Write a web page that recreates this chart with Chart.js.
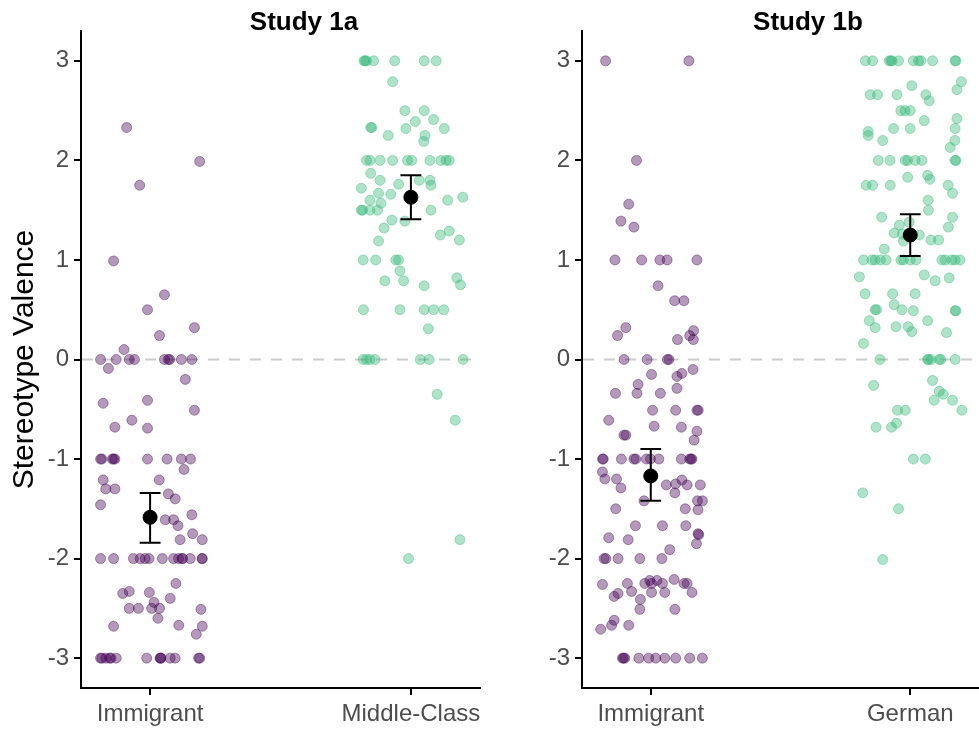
<!DOCTYPE html>
<html>
<head>
<meta charset="utf-8">
<script src="https://cdn.jsdelivr.net/npm/chart.js@4.4.0/dist/chart.umd.min.js"></script>
<style>
    body { margin: 0; background: #fff; width: 979px; height: 729px; overflow: hidden; position: relative; }
    canvas { position: absolute; top: 0; }
    #chart1a { left: 0; }
    #chart1b { left: 500px; }
</style>
</head>
<body>
<canvas id="chart1a" width="490" height="729"></canvas>
<canvas id="chart1b" width="489" height="729"></canvas>
<script>
// --- data ---
const categories1a = ['Immigrant', 'Middle-Class'];
const categories1b = ['Immigrant', 'German'];
const yTickValues = [-3, -2, -1, 0, 1, 2, 3];

// Study 1a - Immigrant (horizontal jitter from category centre, value)
const s1aImmJitter = [
    -0.09, 0.19, -0.04, -0.14, 0.055, -0.01, 0.17, 0.036, -0.10,
    -0.19, -0.13, -0.08, -0.06, 0.055, 0.07, 0.075, 0.12, 0.16,
    -0.16, 0.135, -0.18, -0.01, 0.17, -0.135, -0.07, -0.01,
    -0.19, -0.185, -0.14, -0.145, -0.135, -0.01, 0.065, 0.12, 0.155,
    0.13, -0.18, -0.17, -0.135, 0.035, 0.07, 0.096, -0.19, 0.16, 0.058, 0.09, 0.107, 0.163, 0.115, 0.20,
    -0.19, -0.14, -0.064, -0.038, -0.019, -0.004, 0.047, 0.09, 0.109, 0.122, 0.125, 0.154, 0.199, 0.2,
    0.099, -0.105, -0.08, -0.003, 0.077, 0.015, -0.08, -0.045, 0.006, 0.036, 0.03, 0.195, -0.14, 0.11, 0.2, 0.177,
    -0.19, -0.185, -0.17, -0.15, -0.155, -0.13, -0.013, 0.038, 0.04, 0.042, 0.077, 0.096, 0.186, 0.19
];
const s1aImmValues = [
    2.33, 1.99, 1.75, 0.99, 0.65, 0.50, 0.32, 0.24, 0.10,
    0, 0, 0, 0, 0, 0, 0, 0, 0,
    -0.09, -0.20, -0.44, -0.41, -0.51, -0.68, -0.61, -0.69,
    -1, -1, -1, -1, -1, -1, -1, -1, -1,
    -1.105, -1.21, -1.30, -1.30, -1.21, -1.35, -1.40, -1.46, -1.56, -1.61, -1.61, -1.67, -1.75, -1.81, -1.81,
    -2, -2, -2, -2, -2, -2, -2, -2, -2, -2, -2, -2, -2, -2,
    -2.25, -2.35, -2.33, -2.34, -2.40, -2.44, -2.50, -2.50, -2.50, -2.50, -2.60, -2.51, -2.68, -2.67, -2.68, -2.76,
    -3, -3, -3, -3, -3, -3, -3, -3, -3, -3, -3, -3, -3, -3
];

// Study 1a - Middle-Class
const s1aMidJitter = [
    -0.18, -0.175, -0.17, -0.143, -0.062, 0.051, 0.097,
    -0.07, -0.023, 0.051, 0.017, 0.087, -0.154, -0.15, -0.019, 0.128, -0.087, 0.054, 0.049,
    -0.17, -0.157, -0.118, -0.07, -0.013, 0.003, 0.073, 0.115, 0.135, 0.147,
    -0.154, -0.118, 0.032, 0.073, 0.077, -0.19, -0.047, -0.124, -0.115, -0.077, -0.157, 0.141, 0.199,
    -0.19, -0.185, -0.157, -0.128, 0.077, -0.073, -0.023, -0.103, 0.113, 0.147, 0.186, -0.124,
    -0.183, -0.135, -0.058, -0.047, -0.042, -0.1, -0.028, 0.051, 0.176, 0.19,
    -0.182, -0.042, 0.051, 0.087, 0.126, 0.067,
    -0.183, -0.17, -0.157, -0.138, 0.036, 0.07, 0.2,
    0.101, 0.17, 0.188, -0.009
];
const s1aMidValues = [
    3, 3, 3, 3, 3, 3, 3,
    2.79, 2.50, 2.50, 2.39, 2.41, 2.33, 2.33, 2.32, 2.32, 2.25, 2.25, 2.19,
    2, 2, 2, 2, 2, 2, 2, 2, 2, 2,
    1.87, 1.80, 1.80, 1.80, 1.75, 1.72, 1.76, 1.67, 1.57, 1.66, 1.60, 1.60, 1.63,
    1.50, 1.50, 1.50, 1.50, 1.50, 1.40, 1.39, 1.32, 1.25, 1.29, 1.20, 1.19,
    1, 1, 1, 1, 0.89, 0.79, 0.79, 0.74, 0.82, 0.75,
    0.5, 0.5, 0.5, 0.5, 0.5, 0.31,
    0, 0, 0, 0, 0, 0, 0,
    -0.35, -0.61, -1.81, -2.0
];

// Study 1b - Immigrant
const s1bImmJitter = [
    -0.174, 0.147, -0.055, -0.085, -0.115, -0.065,
    -0.138, -0.035, 0.035, 0.063, 0.178,
    0.028, 0.092, 0.128, -0.128, -0.096, 0.165, 0.15, 0.164, 0.103,
    -0.103, -0.014, 0.064, 0.07,
    0.163, 0.12, 0.101, 0.003, -0.049, -0.053, -0.136, 0.037, 0.101,
    0.007, 0.096, 0.178, 0.183, -0.162, -0.103, -0.096, 0.013, 0.118, 0.178, 0.167,
    -0.186, -0.183, -0.113, -0.065, -0.058, -0.017, -0.001, 0.031, 0.118, 0.15, 0.155, 0.159,
    -0.186, -0.177, -0.132, -0.115, 0.06, 0.096, 0.12, 0.14, 0.191, 0.093, -0.026, 0.18, 0.199,
    -0.135, 0.133, 0.182, -0.059, 0.045, 0.135, -0.162, -0.087, 0.182, 0.185, 0.176, 0.073,
    -0.18, -0.173, -0.126, -0.042, 0.043,
    -0.186, -0.09, -0.023, -0.004, 0.003, 0.024, 0.045, 0.09, 0.128, 0.14,
    -0.141, -0.126, -0.074, 0.003, 0.054, 0.159, -0.04, -0.042, 0.093,
    -0.141, -0.151, -0.193, -0.085,
    -0.109, -0.105, -0.1, -0.046, -0.008, 0.019, 0.054, 0.096, 0.15, 0.199
];
const s1bImmValues = [
    3, 3, 2, 1.56, 1.39, 1.33,
    1, 1, 1, 1, 1,
    0.74, 0.59, 0.59, 0.24, 0.32, 0.29, 0.24, 0.20, 0.20,
    0, 0, 0, 0,
    -0.10, -0.14, -0.17, -0.15, -0.25, -0.34, -0.34, -0.34, -0.29,
    -0.51, -0.51, -0.51, -0.51, -0.61, -0.76, -0.76, -0.67, -0.68, -0.72, -0.81,
    -1, -1, -1, -1, -1, -1, -1, -1, -1, -1, -1, -1,
    -1.13, -1.20, -1.20, -1.29, -1.26, -1.25, -1.21, -1.26, -1.26, -1.34, -1.42, -1.42, -1.42,
    -1.50, -1.50, -1.51, -1.67, -1.67, -1.67, -1.79, -1.81, -1.75, -1.76, -1.85, -1.91,
    -2, -2, -2, -2, -2,
    -2.26, -2.25, -2.25, -2.22, -2.25, -2.22, -2.25, -2.21, -2.25, -2.25,
    -2.38, -2.35, -2.33, -2.34, -2.34, -2.34, -2.41, -2.51, -2.51,
    -2.62, -2.67, -2.71, -2.67,
    -3, -3, -3, -3, -3, -3, -3, -3, -3, -3
];

// Study 1b - German
const s1bGerJitter = [
    -0.173, -0.145, -0.081, -0.075, -0.07, -0.045, 0.012, 0.032, 0.041, 0.086, 0.173, 0.176,
    0.197, 0.18, 0.006, -0.154, -0.126, -0.051, 0.06, 0.073, -0.036, -0.02, 0, 0.054,
    0.18, 0.173, 0.172, 0.154, -0.162, -0.162, -0.064, 0, -0.106,
    -0.123, -0.078, -0.019, -0.01, 0.019, 0.045, 0.173, 0.176,
    -0.01, 0.067, 0.076, -0.17, -0.145, -0.077, 0.146, 0.163, 0.069, 0.07, -0.11, 0.163, 0.147,
    -0.042, -0.062, -0.03, -0.026, -0.004, 0.035, 0.08, 0.109, -0.1,
    -0.18, -0.147, -0.135, -0.115, -0.093, -0.036, -0.026, 0, 0.022, 0.122, 0.135, 0.16, 0.173, 0.192,
    -0.196, 0.054, 0.096, 0.15, -0.174, -0.068, 0.019, -0.062, -0.032, 0.012, -0.135, -0.13, 0.173, 0.176,
    -0.158, -0.135, -0.055, -0.008, 0.006, 0.067, 0.14, -0.18,
    -0.117, 0.067, 0.07, 0.08, 0.112, 0.118, 0.173,
    -0.141, 0.086, 0.112, 0.127, 0.092, 0.163, 0.199, -0.049, -0.019, -0.053, -0.072, -0.132,
    0.012, 0.058, -0.183, -0.045, -0.106
];
const s1bGerValues = [
    3, 3, 3, 3, 3, 3, 3, 3, 3, 3, 3, 3,
    2.79, 2.71, 2.75, 2.66, 2.66, 2.66, 2.66, 2.60, 2.50, 2.50, 2.50, 2.40,
    2.42, 2.32, 2.20, 2.13, 2.29, 2.25, 2.32, 2.32, 2.20,
    2, 2, 2, 2, 2, 2, 2, 2,
    1.83, 1.85, 1.81, 1.75, 1.75, 1.75, 1.75, 1.67, 1.60, 1.50, 1.43, 1.43, 1.33,
    1.35, 1.27, 1.26, 1.19, 1.38, 1.25, 1.20, 1.20, 1.11,
    1, 1, 1, 1, 1, 1, 1, 1, 1, 1, 1, 1, 1, 1,
    0.83, 0.85, 0.79, 0.82, 0.66, 0.66, 0.66, 0.55, 0.50, 0.49, 0.50, 0.50, 0.49, 0.49,
    0.39, 0.32, 0.33, 0.33, 0.28, 0.39, 0.27, 0.16,
    0, 0, 0, 0, 0, 0, 0,
    -0.26, -0.21, -0.32, -0.35, -0.41, -0.41, -0.51, -0.51, -0.51, -0.64, -0.68, -0.68,
    -1, -1, -1.34, -1.50, -2.01
];

// means with error bar ends
const means1a = [-1.585, 1.63];
const lower1a = [-1.84, 1.41];
const upper1a = [-1.34, 1.85];
const means1b = [-1.17, 1.25];
const lower1b = [-1.42, 1.04];
const upper1b = [-0.90, 1.46];

// --- styling ---
const purpleFill = 'rgba(68, 1, 84, 0.40)';
const greenFill = 'rgba(53, 183, 121, 0.40)';
const tickGrey = '#4D4D4D';
const FONT = "'Liberation Sans', Arial, Helvetica, sans-serif";
const capHalf = 0.04;

Chart.defaults.font.family = FONT;

function toPoints(jitter, values, pos) {
    return values.map((v, i) => ({ x: pos + jitter[i], y: v }));
}

function errorSegments(lower, upper) {
    let pts = [];
    lower.forEach((lo, i) => {
        const pos = i + 1;
        const hi = upper[i];
        pts.push({ x: pos, y: lo }, { x: pos, y: hi }, { x: pos, y: null });
        pts.push({ x: pos - capHalf, y: hi }, { x: pos + capHalf, y: hi }, { x: pos, y: null });
        pts.push({ x: pos - capHalf, y: lo }, { x: pos + capHalf, y: lo }, { x: pos, y: null });
    });
    return pts;
}

const decor = {
    id: 'decor',
    beforeDatasetsDraw(chart) {
        const { ctx, chartArea } = chart;
        const y0 = chart.scales.y.getPixelForValue(0);
        ctx.save();
        ctx.strokeStyle = '#CCCCCC';
        ctx.lineWidth = 2;
        ctx.setLineDash([11, 10]);
        ctx.beginPath();
        ctx.moveTo(chartArea.left + 1, y0);
        ctx.lineTo(chartArea.right, y0);
        ctx.stroke();
        ctx.restore();
    },
    afterDraw(chart, args, opts) {
        const ctx = chart.ctx;
        ctx.save();
        ctx.fillStyle = '#000';
        ctx.font = 'bold 26px ' + FONT;
        ctx.textAlign = 'center';
        ctx.textBaseline = 'alphabetic';
        ctx.fillText(opts.title, opts.titleX, 30);
        if (opts.yTitle) {
            ctx.font = '30px ' + FONT;
            ctx.translate(33, (chart.chartArea.top + chart.chartArea.bottom) / 2);
            ctx.rotate(-Math.PI / 2);
            ctx.fillText(opts.yTitle, 0, 0);
        }
        ctx.restore();
    }
};

function makePanel(id, p) {
    return new Chart(document.getElementById(id), {
        type: 'scatter',
        data: {
            datasets: [{
                data: toPoints(p.jitters[0], p.values[0], 1),
                backgroundColor: purpleFill,
                borderColor: purpleFill,
                borderWidth: 1,
                pointRadius: 5,
                order: 3
            }, {
                data: toPoints(p.jitters[1], p.values[1], 2),
                backgroundColor: greenFill,
                borderColor: greenFill,
                borderWidth: 1,
                pointRadius: 5,
                order: 3
            }, {
                data: errorSegments(p.lower, p.upper),
                showLine: true,
                spanGaps: false,
                borderColor: '#000',
                borderWidth: 2,
                pointRadius: 0,
                order: 2
            }, {
                data: p.means.map((m, i) => ({ x: i + 1, y: m })),
                backgroundColor: '#000',
                borderColor: '#000',
                pointRadius: 7,
                order: 1
            }]
        },
        options: {
            responsive: false,
            animation: false,
            devicePixelRatio: 1,
            layout: { padding: { top: 31, right: 10, left: 0, bottom: 0 } },
            plugins: {
                legend: { display: false },
                tooltip: { enabled: false },
                decor: { title: p.title, titleX: p.titleX, yTitle: p.yTitle }
            },
            scales: {
                x: {
                    type: 'linear',
                    min: 0.735,
                    max: 2.265,
                    afterBuildTicks: s => { s.ticks = [1, 2].map(v => ({ value: v })); },
                    afterFit: s => { s.height = 41; },
                    grid: { drawOnChartArea: false, color: '#000', lineWidth: 2, tickLength: 7 },
                    border: { color: '#000', width: 2 },
                    ticks: {
                        color: tickGrey,
                        font: { size: 24 },
                        padding: 5,
                        maxRotation: 0,
                        autoSkip: false,
                        callback: v => p.categories[v - 1]
                    }
                },
                y: {
                    min: -3.3,
                    max: 3.3,
                    afterBuildTicks: s => { s.ticks = yTickValues.map(v => ({ value: v })); },
                    afterFit: s => { s.width = p.axisWidth; },
                    grid: { drawOnChartArea: false, color: '#000', lineWidth: 2, tickLength: 7 },
                    border: { color: '#000', width: 2 },
                    ticks: { color: tickGrey, font: { size: 24 }, padding: 5 }
                }
            }
        },
        plugins: [decor]
    });
}

makePanel('chart1a', {
    categories: categories1a,
    jitters: [s1aImmJitter, s1aMidJitter],
    values: [s1aImmValues, s1aMidValues],
    means: means1a, lower: lower1a, upper: upper1a,
    title: 'Study 1a', titleX: 304, yTitle: 'Stereotype Valence',
    axisWidth: 81
});

makePanel('chart1b', {
    categories: categories1b,
    jitters: [s1bImmJitter, s1bGerJitter],
    values: [s1bImmValues, s1bGerValues],
    means: means1b, lower: lower1b, upper: upper1b,
    title: 'Study 1b', titleX: 308, yTitle: null,
    axisWidth: 82
});
</script>
</body>
</html>
